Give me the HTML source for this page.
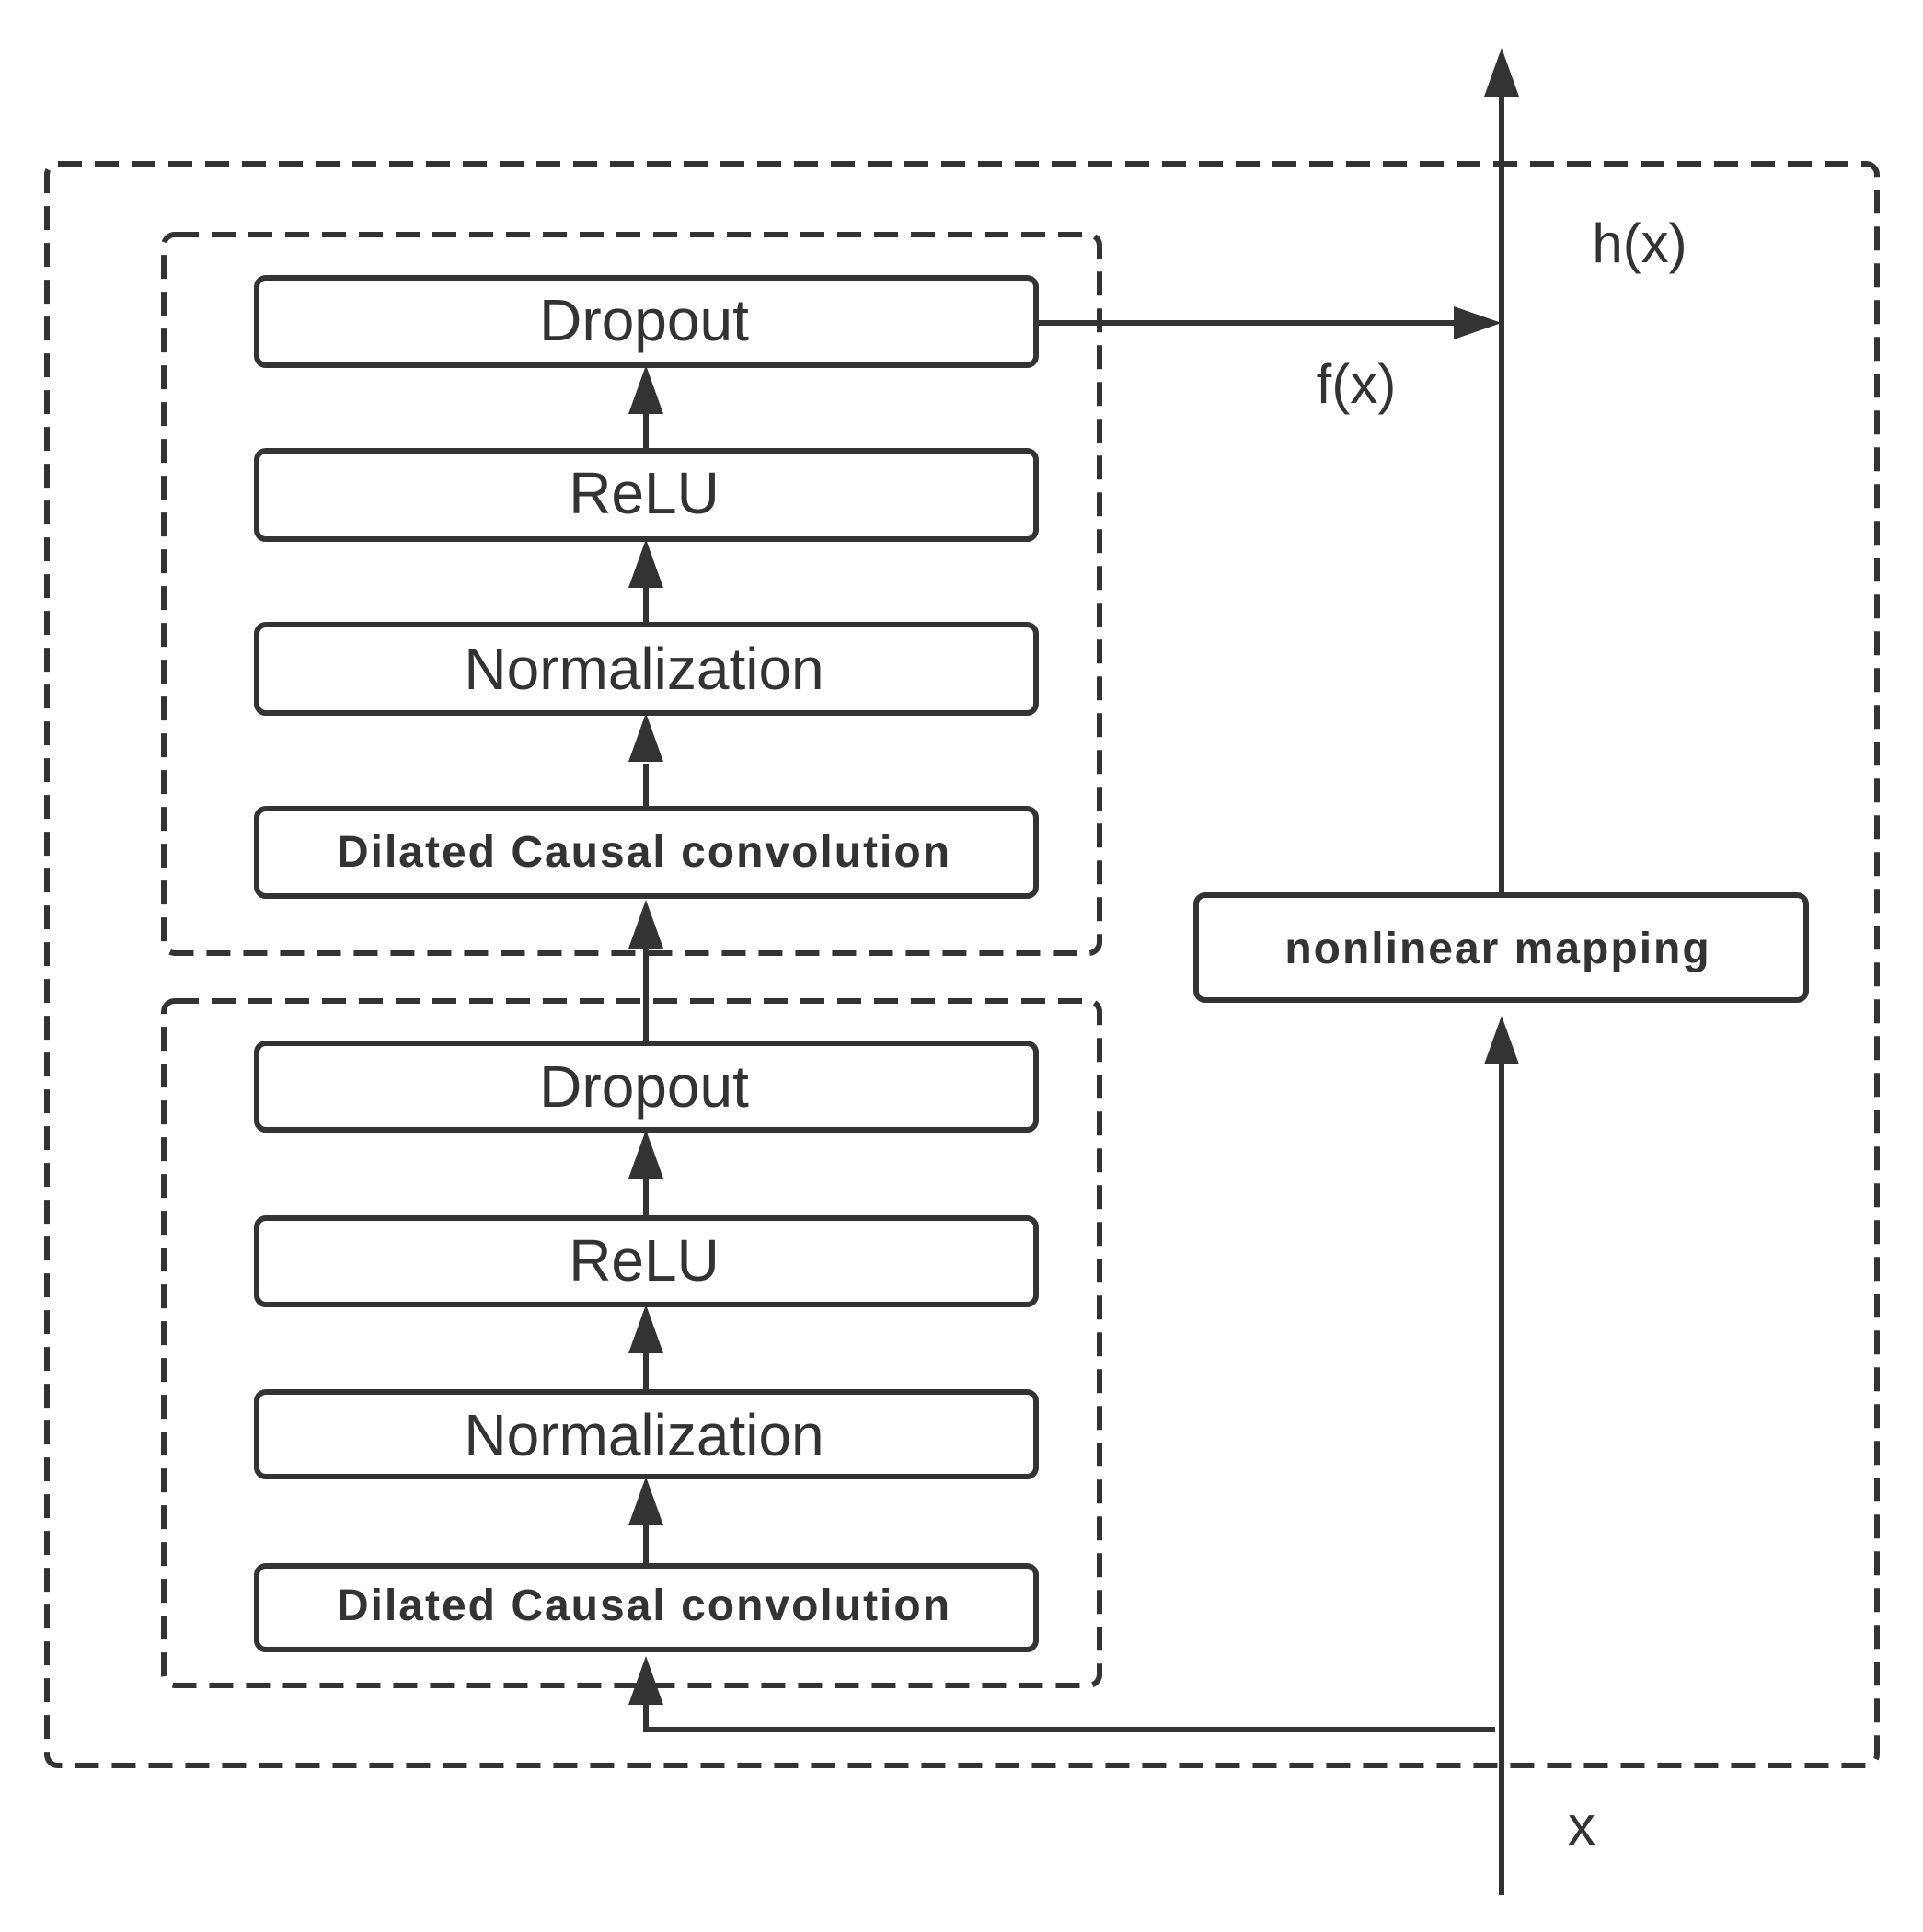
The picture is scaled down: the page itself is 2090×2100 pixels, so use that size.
<!DOCTYPE html>
<html><head><meta charset="utf-8"><style>
html,body{margin:0;padding:0;background:#fff}
svg{display:block}
text{font-family:"Liberation Sans","DejaVu Sans",sans-serif;fill:#333}
</style></head><body>
<svg width="2090" height="2100" viewBox="0 0 2090 2100" xmlns="http://www.w3.org/2000/svg">
<defs>
<marker id="a" markerWidth="10" markerHeight="12" refX="10" refY="6" orient="auto" markerUnits="userSpaceOnUse" viewBox="0 0 10 12">
</marker>
</defs>
<g fill="none" stroke="#333" stroke-width="6" stroke-dasharray="26,14">
<rect x="51" y="178" width="1989" height="1741" rx="12"/>
<rect x="178" y="255" width="1017" height="781" rx="12"/>
<rect x="178" y="1088" width="1017" height="744" rx="12"/>
</g>
<g fill="#fff" stroke="#333" stroke-width="6">
<rect x="279" y="302" width="847" height="95" rx="10"/>
<rect x="279" y="490" width="847" height="96" rx="10"/>
<rect x="279" y="679" width="847" height="96" rx="10"/>
<rect x="279" y="879" width="847" height="95" rx="10"/>
<rect x="279" y="1134" width="847" height="94" rx="10"/>
<rect x="279" y="1324" width="847" height="94" rx="10"/>
<rect x="279" y="1513" width="847" height="92" rx="10"/>
<rect x="279" y="1702" width="847" height="91" rx="10"/>
<rect x="1300" y="973" width="663" height="114" rx="10"/>
</g>
<g stroke="#333" stroke-width="6" fill="none">
<line x1="702" y1="490" x2="702" y2="440"/>
<line x1="702" y1="679" x2="702" y2="630"/>
<line x1="702" y1="879" x2="702" y2="830"/>
<line x1="702" y1="1134" x2="702" y2="1030"/>
<line x1="702" y1="1324" x2="702" y2="1275"/>
<line x1="702" y1="1513" x2="702" y2="1465"/>
<line x1="702" y1="1702" x2="702" y2="1655"/>
<polyline points="1625,1880 702,1880 702,1850"/>
<line x1="1632" y1="973" x2="1632" y2="100"/>
<line x1="1632" y1="2060" x2="1632" y2="1150"/>
<line x1="1126" y1="351" x2="1585" y2="351"/>
</g>
<g fill="#333">
<polygon points="702,397 683,450 721,450"/>
<polygon points="702,586 683,639 721,639"/>
<polygon points="702,775 683,828 721,828"/>
<polygon points="702,978 683,1031 721,1031"/>
<polygon points="702,1228 683,1281 721,1281"/>
<polygon points="702,1418 683,1471 721,1471"/>
<polygon points="702,1605 683,1658 721,1658"/>
<polygon points="702,1800 683,1853 721,1853"/>
<polygon points="1632,52 1613,105 1651,105"/>
<polygon points="1632,1104 1613,1157 1651,1157"/>
<polygon points="1632,351 1580,333 1580,369"/>
</g>
<g font-size="64" text-anchor="middle">
<text x="700" y="370">Dropout</text>
<text x="700" y="558">ReLU</text>
<text x="700" y="749">Normalization</text>
<text x="700" y="1203">Dropout</text>
<text x="700" y="1392">ReLU</text>
<text x="700" y="1582">Normalization</text>
</g>
<g font-size="48" font-weight="bold" text-anchor="middle" letter-spacing="2">
<text x="700" y="942">Dilated Causal convolution</text>
<text x="700" y="1761">Dilated Causal convolution</text>
<text x="1628" y="1047">nonlinear mapping</text>
</g>
<g font-size="60" text-anchor="middle">
<text x="1782" y="285">h(x)</text>
<text x="1474" y="438">f(x)</text>
<text x="1719" y="2005">x</text>
</g>
</svg>
</body></html>
